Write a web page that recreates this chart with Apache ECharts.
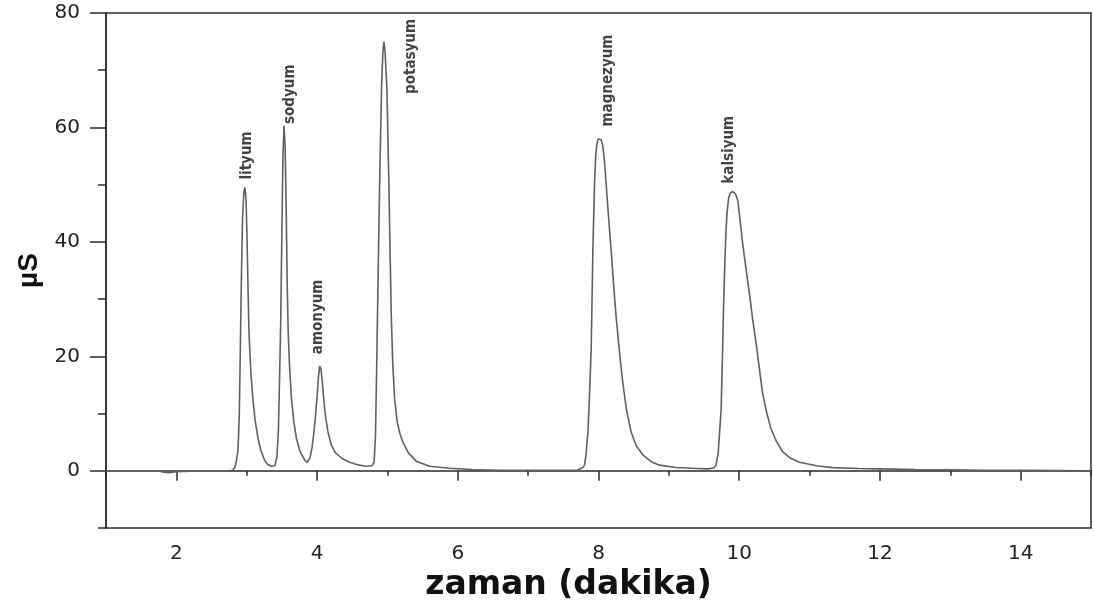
<!DOCTYPE html>
<html>
<head>
<meta charset="utf-8">
<title>iyon kromatogrami</title>
<script src="https://cdn.jsdelivr.net/npm/echarts@6/dist/echarts.min.js"></script>
<style>
html, body { margin: 0; padding: 0; background: #fff; }
#main { width: 1094px; height: 607px; }
</style>
</head>
<body>
<div id="main"></div>
<script>
// zaman (dakika), okunan degerler
var zaman = [
	1.0, 1.5, 1.75, 1.82, 1.9, 2.0, 2.2, 2.5, 2.75, 2.8,
	2.83, 2.85, 2.876, 2.895, 2.91, 2.925, 2.94, 2.96, 2.975, 2.99, 3.004, 3.02, 3.033, 3.06, 3.09, 3.12, 3.16, 3.2, 3.256, 3.3, 3.35, 3.4,
	3.43, 3.45, 3.465, 3.483, 3.5, 3.515, 3.53, 3.545, 3.56, 3.575, 3.59, 3.61, 3.635, 3.67, 3.706, 3.76, 3.824, 3.86,
	3.9, 3.93, 3.956, 3.98, 4.0, 4.02, 4.037, 4.055, 4.075, 4.094, 4.12, 4.155, 4.2, 4.26, 4.35, 4.46, 4.6, 4.7, 4.78,
	4.81, 4.83, 4.851, 4.87, 4.889, 4.905, 4.918, 4.935, 4.95, 4.965, 4.98, 4.993, 5.007, 5.021, 5.038, 5.055, 5.075, 5.102, 5.14, 5.18, 5.22, 5.3, 5.41, 5.6, 5.88, 6.2, 6.6, 7.0, 7.5, 7.7, 7.78,
	7.8, 7.82, 7.85, 7.87, 7.896, 7.92, 7.943, 7.96, 7.976, 7.995, 8.014, 8.035, 8.06, 8.085, 8.11, 8.145, 8.18, 8.215, 8.25, 8.3, 8.345, 8.4, 8.464, 8.54, 8.63, 8.75, 8.866, 9.1, 9.34, 9.55, 9.64,
	9.67, 9.7, 9.72, 9.743, 9.76, 9.776, 9.795, 9.814, 9.83, 9.85, 9.875, 9.908, 9.94, 9.96, 9.98, 10.015, 10.05, 10.1, 10.145, 10.19, 10.24, 10.285, 10.33, 10.39, 10.45, 10.53, 10.62, 10.73, 10.855, 11.1, 11.33, 11.7, 12.0, 12.5, 13.0, 13.5, 14.0, 14.5, 15.0
];
// iletkenlik (µS)
var iletkenlik = [
	0, 0, 0, -0.25, -0.3, -0.15, -0.05, 0, 0, 0.1,
	0.6, 1.5, 3.5, 10, 22, 34, 44, 48.8, 49.5, 47.5, 41, 31, 24, 17, 12.2, 8.8, 5.7, 3.6, 1.8, 1.1, 0.8, 0.9,
	2.5, 7, 15, 26, 42, 55, 60.3, 57, 47, 33, 24, 18, 12.8, 8.5, 5.7, 3.3, 1.9, 1.5,
	2.3, 4.2, 6.8, 10, 13, 16.5, 18.3, 17.8, 15.5, 12.6, 9.5, 6.8, 4.6, 3.2, 2.2, 1.5, 1.0, 0.8, 0.9,
	1.5, 6, 21, 36, 50, 60, 67.5, 73, 75, 73.5, 70, 66.5, 58, 50, 38, 27, 19, 12.6, 8.5, 6.4, 5.0, 3.1, 1.7, 0.8, 0.45, 0.25, 0.12, 0.1, 0.1, 0.15, 0.6,
	1.0, 2.5, 6.8, 12.5, 21.2, 38.5, 50, 55, 57, 58, 58.2, 57.9, 56.9, 54, 50, 44, 38.5, 32.5, 27, 20.5, 15.4, 10.5, 6.8, 4.3, 2.8, 1.6, 1.0, 0.6, 0.45, 0.35, 0.5,
	1.0, 3, 6.5, 10.8, 19, 28, 36, 42.5, 45.5, 47.7, 48.6, 48.8, 48.5, 48, 47.2, 43.5, 39.6, 35, 31, 26.6, 22.3, 18, 13.7, 10.2, 7.4, 5.1, 3.3, 2.2, 1.5, 0.9, 0.57, 0.42, 0.35, 0.25, 0.18, 0.12, 0.08, 0.04, 0
];

// pik adlari ve etiket yerleri (eksen degerleri ile)
var pikAdlari = ['lityum', 'sodyum', 'amonyum', 'potasyum', 'magnezyum', 'kalsiyum'];
var etiketX = [3.0, 3.61, 4.01, 5.33, 8.13, 9.86];
var etiketY = [55.1, 65.8, 26.9, 72.4, 68.2, 56.1];

var xTikler = [2, 4, 6, 8, 10, 12, 14];
var xAraTikler = [1, 3, 5, 7, 9, 11, 13, 15];
var yTikler = [0, 20, 40, 60, 80];
var yAraTikler = [-10, 10, 30, 50, 70];

var myChart = echarts.init(document.getElementById('main'));

var egri = [];
for (var i = 0; i < zaman.length; i++) {
	egri.push([zaman[i], iletkenlik[i]]);
}
var etiketler = [];
for (var j = 0; j < pikAdlari.length; j++) {
	etiketler.push({ name: pikAdlari[j], value: [etiketX[j], etiketY[j]] });
}

var eksenRengi = '#2a2a2a';
var yaziTipi = 'DejaVu Sans';

var option = {
	animation: false,
	backgroundColor: '#fff',
	grid: {
		left: 106,
		right: 3,
		top: 13,
		bottom: 73,
		show: true,
		borderColor: eksenRengi,
		borderWidth: 1.5
	},
	xAxis: [
		{
			type: 'value',
			position: 'bottom',
			min: 1,
			max: 15,
			name: 'zaman (dakika)',
			nameLocation: 'middle',
			nameGap: 29,
			nameTextStyle: {
				fontFamily: yaziTipi,
				fontWeight: 'bold',
				fontSize: 33,
				color: '#111',
				padding: [0, 60, 0, 0]
			},
			axisLine: { show: true, lineStyle: { color: eksenRengi, width: 1.5 } },
			axisTick: { show: true, length: 10, customValues: xTikler, lineStyle: { color: eksenRengi, width: 1.5 } },
			axisLabel: { customValues: xTikler, fontFamily: yaziTipi, fontSize: 20, color: '#222', margin: 16 },
			splitLine: { show: false }
		},
		{
			type: 'value',
			position: 'bottom',
			min: 1,
			max: 15,
			axisLine: { show: false },
			axisTick: { show: true, length: 5, customValues: xAraTikler, lineStyle: { color: eksenRengi, width: 1.5 } },
			axisLabel: { show: false },
			splitLine: { show: false }
		}
	],
	yAxis: [
		{
			type: 'value',
			position: 'left',
			min: -10,
			max: 80,
			name: 'µS',
			nameLocation: 'middle',
			nameGap: 60,
			nameTextStyle: {
				fontFamily: 'Liberation Sans',
				fontWeight: 'bold',
				fontSize: 28,
				color: '#111'
			},
			axisLine: { show: true, lineStyle: { color: eksenRengi, width: 1.5 } },
			axisTick: { show: true, length: 16, customValues: yTikler, lineStyle: { color: eksenRengi, width: 1.5 } },
			axisLabel: { customValues: yTikler, fontFamily: yaziTipi, fontSize: 20, color: '#222', margin: 26 },
			splitLine: { show: false }
		},
		{
			type: 'value',
			position: 'left',
			min: -10,
			max: 80,
			axisLine: { show: false },
			axisTick: { show: true, length: 8, customValues: yAraTikler, lineStyle: { color: eksenRengi, width: 1.5 } },
			axisLabel: { show: false },
			splitLine: { show: false }
		}
	],
	series: [
		{
			name: 'kromatogram',
			type: 'line',
			data: egri,
			showSymbol: false,
			lineStyle: { color: '#606060', width: 1.6 },
			z: 2
		},
		{
			name: 'etiketler',
			type: 'scatter',
			data: etiketler,
			symbolSize: 0,
			label: {
				show: true,
				position: 'inside',
				rotate: 90,
				formatter: '{b}',
				fontFamily: "'DejaVu Sans Condensed', 'Liberation Sans', sans-serif",
				fontWeight: 'bold',
				fontSize: 15,
				color: '#111'
			},
			z: 3
		}
	]
};
myChart.setOption(option);
</script>
</body>
</html>
